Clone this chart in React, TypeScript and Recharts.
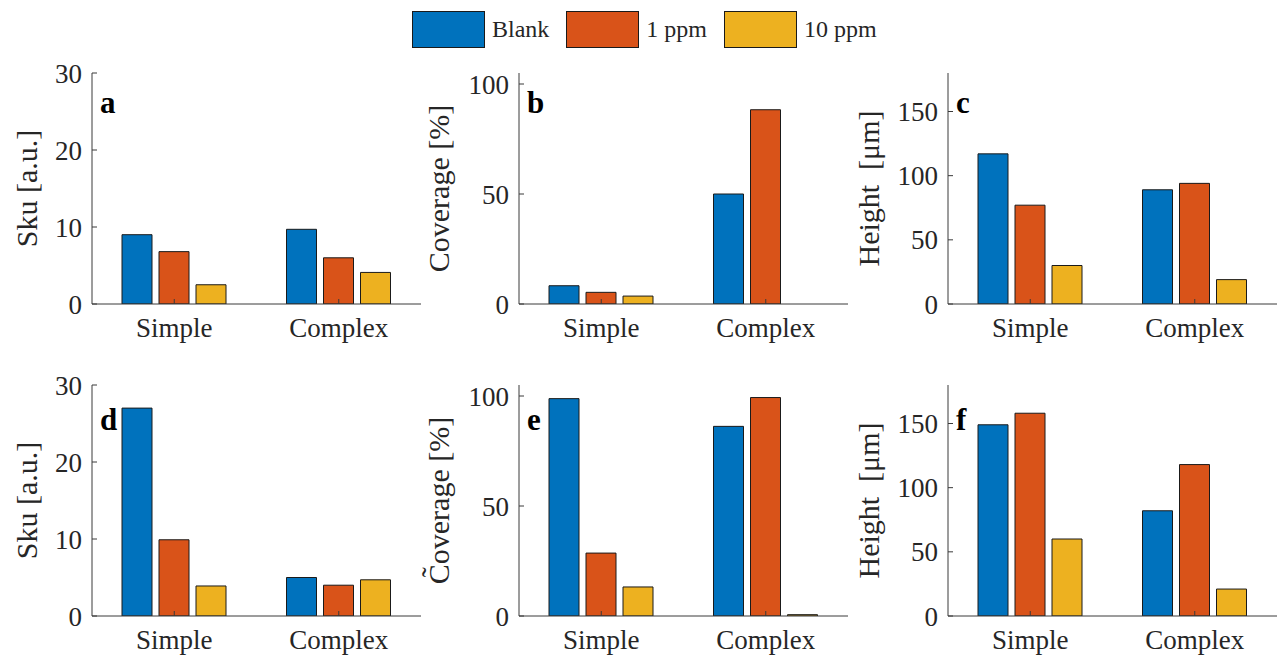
import React from 'react';
import { BarChart, Bar, XAxis, YAxis, Label } from 'recharts';

const categories = ['Simple', 'Complex'];
const seriesNames = ['Blank', '1 ppm', '10 ppm'];
const seriesKeys = ['blank', 'ppm1', 'ppm10'];
const seriesColors = ['#0072BD', '#D95319', '#EDB120'];

// values per series: [Blank, 1 ppm, 10 ppm], each [Simple, Complex]
const skuTop = [[9.0, 9.7], [6.8, 6.0], [2.5, 4.1]];
const coverageTop = [[8.3, 50.0], [5.3, 88.3], [3.6, 0]];
const heightTop = [[117, 89], [77, 94], [30, 19]];
const skuBottom = [[27.0, 5.0], [9.9, 4.0], [3.9, 4.7]];
const coverageBottom = [[98.8, 86.2], [28.6, 99.3], [13.2, 0.6]];
const heightBottom = [[149, 82], [158, 118], [60, 21]];

const skuTicks = [0, 10, 20, 30];
const coverageTicks = [0, 50, 100];
const heightTicks = [0, 50, 100, 150];

const FONT = "'Liberation Serif', 'Times New Roman', serif";
const AXIS_COLOR = '#3a3a3a';
const TEXT_COLOR = '#262626';

const PLOT_W = 329;
const PLOT_H = 231;
const AXIS_W = 110;
const TOP = 20;
const RIGHT = 8;
const XAXIS_H = 50;
const colLeft = [92, 519, 948];
const rowTop = [73, 385];

// labelX: centre of the rotated y label, relative to the plot's left edge
const panels = [
  { letter: 'a', values: skuTop, yLabel: 'Sku [a.u.]', domain: [0, 30], ticks: skuTicks, col: 0, row: 0, labelX: -66 },
  { letter: 'b', values: coverageTop, yLabel: 'Coverage [%]', domain: [0, 105], ticks: coverageTicks, col: 1, row: 0, labelX: -81 },
  { letter: 'c', values: heightTop, yLabel: 'Height  [μm]', domain: [0, 180], ticks: heightTicks, col: 2, row: 0, labelX: -80 },
  { letter: 'd', values: skuBottom, yLabel: 'Sku [a.u.]', domain: [0, 30], ticks: skuTicks, col: 0, row: 1, labelX: -66 },
  { letter: 'e', values: coverageBottom, yLabel: 'C\u0303overage [%]', domain: [0, 105], ticks: coverageTicks, col: 1, row: 1, labelX: -81 },
  { letter: 'f', values: heightBottom, yLabel: 'Height  [μm]', domain: [0, 180], ticks: heightTicks, col: 2, row: 1, labelX: -80 },
];

const XTick = ({ x, y, payload }: any) => (
  <text x={x} y={y} dy="0.71em" textAnchor="middle" fill={TEXT_COLOR} fontSize={27} style={{ fontFamily: FONT }}>
    {payload.value}
  </text>
);

const YTick = ({ x, y, payload }: any) => (
  <text x={x} y={y} dy="0.355em" textAnchor="end" fill={TEXT_COLOR} fontSize={27} style={{ fontFamily: FONT }}>
    {payload.value}
  </text>
);

const Panel = ({ p }: { p: typeof panels[number] }) => {
  const data = categories.map((name, i) => {
    const row: Record<string, string | number> = { name };
    seriesKeys.forEach((k, s) => (row[k] = p.values[s][i]));
    return row;
  });
  const letterY = p.row === 0 ? 40 : 45;

  return (
    <div style={{ position: 'absolute', left: colLeft[p.col] - AXIS_W, top: rowTop[p.row] - TOP }}>
      <BarChart
        width={AXIS_W + PLOT_W + RIGHT}
        height={TOP + PLOT_H + XAXIS_H}
        data={data}
        margin={{ top: TOP, right: RIGHT, left: 0, bottom: 0 }}
        barSize={30}
        barGap={7}
        style={{ fontFamily: FONT }}
      >
        <XAxis
          xAxisId="bottom"
          dataKey="name"
          height={XAXIS_H}
          tickSize={-5}
          tickMargin={19}
          stroke={AXIS_COLOR}
          tick={<XTick />}
        />
        <XAxis xAxisId="top" dataKey="name" orientation="top" height={0} tickSize={-5} tick={false} stroke={AXIS_COLOR} />
        <YAxis
          yAxisId="left"
          width={AXIS_W}
          domain={p.domain}
          ticks={p.ticks}
          allowDataOverflow
          tickSize={-5}
          tickMargin={15}
          stroke={AXIS_COLOR}
          tick={<YTick />}
        >
          <Label
            content={({ viewBox }: any) => {
              const cx = viewBox.x + viewBox.width + p.labelX;
              const cy = viewBox.y + viewBox.height / 2;
              return (
                <text
                  x={cx}
                  y={cy}
                  transform={`rotate(-90, ${cx}, ${cy})`}
                  textAnchor="middle"
                  dominantBaseline="central"
                  fill={TEXT_COLOR}
                  fontSize={30}
                  style={{ fontFamily: FONT, whiteSpace: 'pre' }}
                >
                  {p.yLabel}
                </text>
              );
            }}
          />
        </YAxis>
        <YAxis
          yAxisId="right"
          orientation="right"
          width={0}
          domain={p.domain}
          ticks={p.ticks}
          allowDataOverflow
          tickSize={-5}
          tick={false}
          stroke={AXIS_COLOR}
        />
        {seriesKeys.map((k, s) => (
          <Bar
            key={k}
            dataKey={k}
            name={seriesNames[s]}
            xAxisId="bottom"
            yAxisId="left"
            fill={seriesColors[s]}
            stroke="#1a1a1a"
            strokeWidth={1}
            isAnimationActive={false}
          />
        ))}
        <text x={AXIS_W + 8} y={TOP + letterY} fontSize={31} fontWeight="bold" fill="#000" style={{ fontFamily: FONT }}>
          {p.letter}
        </text>
      </BarChart>
    </div>
  );
};

export default function App() {
  return (
    <div style={{ position: 'absolute', left: 0, top: 0, width: 1286, height: 660, background: '#fff', fontFamily: FONT }}>
      <div style={{ position: 'absolute', left: 412, top: 11, display: 'flex', alignItems: 'center' }}>
        {seriesNames.map((n, s) => (
          <div key={n} style={{ display: 'flex', alignItems: 'center', marginRight: 17 }}>
            <div style={{ width: 71, height: 35, background: seriesColors[s], border: '1px solid #1a1a1a' }} />
            <span style={{ marginLeft: 7, fontSize: 24, color: TEXT_COLOR }}>{n}</span>
          </div>
        ))}
      </div>
      {panels.map((p) => (
        <Panel key={p.letter} p={p} />
      ))}
    </div>
  );
}
